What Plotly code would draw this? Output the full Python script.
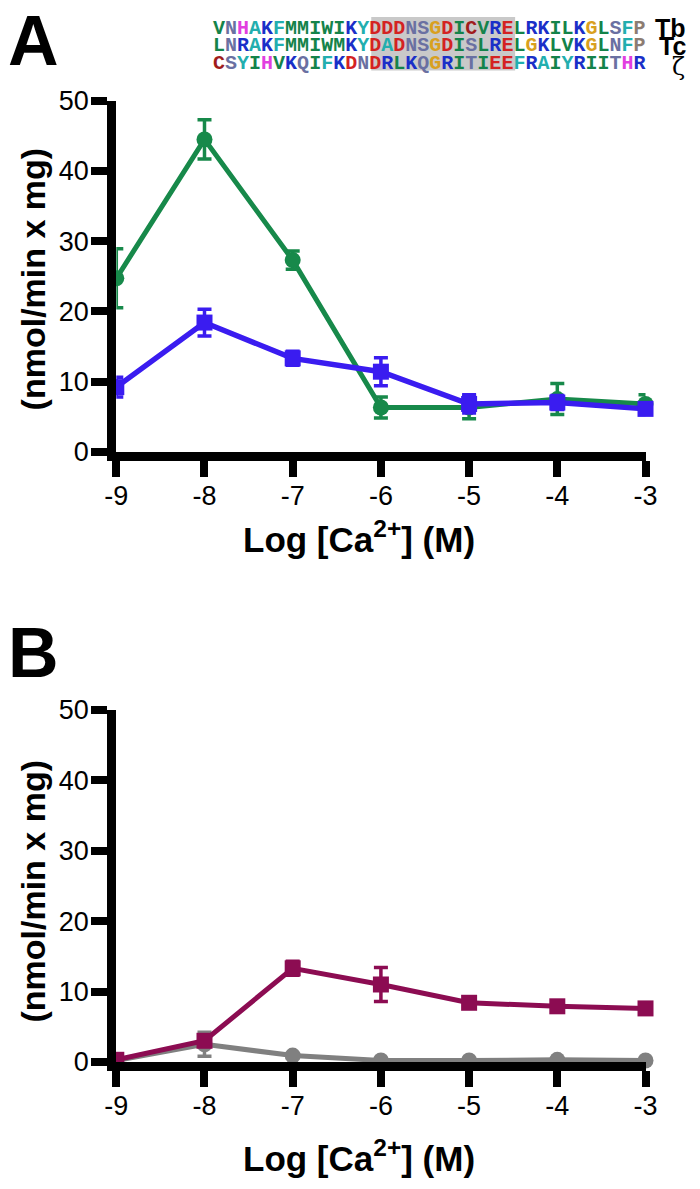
import plotly.graph_objects as go

W, H = 700, 1189

# ---------------- data ----------------
log_ca = [-9, -8, -7, -6, -5, -4, -3]
x_ticks = [-9, -8, -7, -6, -5, -4, -3]
x_tick_labels = ["-9", "-8", "-7", "-6", "-5", "-4", "-3"]
y_ticks = [0, 10, 20, 30, 40, 50]
y_tick_labels = ["0", "10", "20", "30", "40", "50"]

# Panel A
green_vals = [24.7, 44.5, 27.3, 6.3, 6.3, 7.5, 6.8]
green_err = [4.2, 2.8, 1.3, 1.5, 1.6, 2.2, 1.3]
blue_vals = [9.2, 18.4, 13.3, 11.4, 6.8, 7.0, 6.1]
blue_err = [1.4, 1.9, 1.0, 2.0, 1.3, 1.0, 0.8]

# Panel B
gray_vals = [0.2, 2.5, 0.9, 0.2, 0.2, 0.3, 0.2]
gray_err = [0.1, 1.7, 0.3, 0.1, 0.1, 0.1, 0.1]
purple_vals = [0.3, 3.0, 13.3, 11.0, 8.4, 7.9, 7.6]
purple_err = [0.2, 0.5, 1.0, 2.4, 0.4, 0.4, 0.4]

# Sequence alignment
seq_names = ["Tb", "Tc", "ζ"]
seq_rows = [
    "VNHAKFMMIWIKYDDDNSGDICVRELRKILKGLSFP",
    "LNRAKFMMIWMKYDADNSGDISLRELGKLVKGLNFP",
    "CSYIHVKQIFKDNDRLKQGRITIEEFRAIYRIITHR",
]

GREEN = "#17894a"
BLUE = "#3a1cf0"
PURPLE = "#8c0c52"
GRAY = "#808080"

aa_color = {}
for c in "VILMW":
    aa_color[c] = "#14834a"
for c in "FYA":
    aa_color[c] = "#22aeae"
for c in "KR":
    aa_color[c] = "#1a2fc8"
for c in "DE":
    aa_color[c] = "#d42222"
for c in "NSQT":
    aa_color[c] = "#6a70a2"
aa_color["G"] = "#d9a020"
aa_color["H"] = "#e23ee0"
aa_color["C"] = "#a01c1c"
aa_color["P"] = "#8c7c72"


def px(x):
    return x / W


def py(y):
    return 1 - y / H


fig = go.Figure()

TICKFONT = dict(family="Liberation Sans Narrow, Arial Narrow, Liberation Sans, Arial", size=27, color="black")


def add_series(xa, ya, vals, err, color, symbol, lw):
    fig.add_trace(go.Scatter(
        x=log_ca, y=vals, xaxis=xa, yaxis=ya, mode="lines+markers",
        line=dict(color=color, width=lw),
        marker=dict(color=color, size=16, symbol=symbol),
        error_y=dict(type="data", array=err, visible=True, color=color, thickness=3.5, width=7),
        cliponaxis=False, showlegend=False, hoverinfo="skip",
    ))


add_series("x", "y", green_vals, green_err, GREEN, "circle", 5)
add_series("x", "y", blue_vals, blue_err, BLUE, "square", 5.5)
add_series("x2", "y2", gray_vals, gray_err, GRAY, "circle", 5)
add_series("x2", "y2", purple_vals, purple_err, PURPLE, "square", 5)

xdom = [px(108), px(656)]
axis_common = dict(showline=True, linewidth=9, linecolor="black", ticks="outside", ticklen=16,
                   tickwidth=8, tickcolor="black", showgrid=False, zeroline=False, tickfont=TICKFONT)

fig.update_layout(
    width=W, height=H, margin=dict(l=0, r=0, t=0, b=0),
    paper_bgcolor="white", plot_bgcolor="white",
    xaxis=dict(domain=xdom, range=[-9, -3], anchor="y", tickvals=x_ticks, ticktext=x_tick_labels,
               ticklabelstandoff=-4, **axis_common),
    yaxis=dict(domain=[py(448), py(88)], range=[0, 50], anchor="x", tickvals=y_ticks,
               ticktext=y_tick_labels, ticklabelstandoff=-3, **axis_common),
    xaxis2=dict(domain=xdom, range=[-9, -3], anchor="y2", tickvals=x_ticks, ticktext=x_tick_labels,
                ticklabelstandoff=-4, **axis_common),
    yaxis2=dict(domain=[py(1074), py(713)], range=[0, 50], anchor="x2", tickvals=y_ticks,
                ticktext=y_tick_labels, ticklabelstandoff=-3, **axis_common),
)

BOLD = "Liberation Sans, Arial, sans-serif"
ann = []
# panel letters
ann.append(dict(x=px(0), y=py(27), xshift=-6, text="<b>A</b>", font=dict(family=BOLD, size=70, color="black"),
                xanchor="left", yanchor="middle", showarrow=False, xref="paper", yref="paper"))
ann.append(dict(x=px(0), y=py(655), xshift=-6, text="<b>B</b>", font=dict(family=BOLD, size=70, color="black"),
                xanchor="left", yanchor="middle", showarrow=False, xref="paper", yref="paper"))
# axis titles
for yc in (535, 1171):
    ann.append(dict(x=px(359), y=py(yc), text="<b>Log [Ca<sup>2+</sup>] (M)</b>",
                    font=dict(family=BOLD, size=35, color="black"), xanchor="center", yanchor="middle",
                    showarrow=False, xref="paper", yref="paper"))
for yc in (271, 899):
    ann.append(dict(x=px(22), y=py(yc), text="<b>(nmol/min x mg)</b>", textangle=-90,
                    font=dict(family=BOLD, size=34, color="black"), xanchor="center", yanchor="middle",
                    showarrow=False, xref="paper", yref="paper"))

# sequence alignment
row_y = [14, 31.8, 49.6]
for seq, yy in zip(seq_rows, row_y):
    html = "".join(f"<span style='color:{aa_color[c]}'>{c}</span>" for c in seq)
    ann.append(dict(x=px(206), y=py(yy), text=f"<b>{html}</b>",
                    font=dict(family="Courier New, Nimbus Mono PS, Nimbus Mono L, FreeMono, Liberation Mono, monospace",
                              size=20),
                    xanchor="left", yanchor="middle", showarrow=False, xref="paper", yref="paper"))
for name, yy in zip(seq_names, [13, 31.5, 53]):
    if name == "ζ":
        ann.append(dict(x=px(681), y=py(yy), text=name, font=dict(family="DejaVu Serif, serif", size=24, color="black"),
                        xanchor="left", yanchor="middle", showarrow=False, xref="paper", yref="paper"))
    else:
        ann.append(dict(x=px(700), y=py(yy), text=f"<b>{name}</b>", font=dict(family=BOLD, size=25, color="black"),
                        xanchor="right", yanchor="middle", showarrow=False, xref="paper", yref="paper"))

fig.update_layout(annotations=ann)

# grey highlight box behind sequence block
fig.add_shape(type="rect", xref="paper", yref="paper", x0=px(372), x1=px(521), y0=py(57), y1=py(2),
              fillcolor="#c9c9c9", line=dict(width=0), layer="below")

fig.write_html("out.html", config={"displayModeBar": False},
               post_script="document.body.style.margin='0';")
